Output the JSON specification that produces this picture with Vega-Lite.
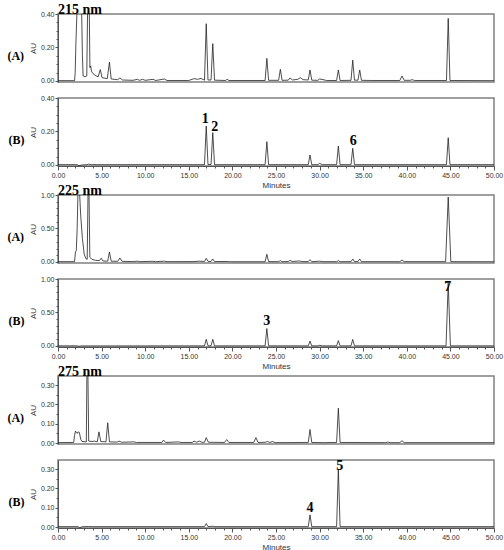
{
"$schema": "https://vega.github.io/schema/vega-lite/v6.json",
"padding": {"left": 6, "top": 2, "right": 1, "bottom": 2},
"background": "white",
"config": {
  "view": {"stroke": "#808080", "strokeWidth": 1.5},
  "axis": {"labelFont": "Liberation Sans", "labelFontSize": 7, "labelColor": "#333", "titleFont": "Liberation Sans", "titleFontSize": 8, "titleFontWeight": "normal", "titleColor": "#333", "domainColor": "#555", "tickColor": "#555", "grid": false, "labelFlush": false, "labelOverlap": false},
  "title": {"font": "Liberation Serif", "fontSize": 12, "fontWeight": "bold", "color": "#000", "orient": "left", "angle": 0, "align": "right", "baseline": "middle", "anchor": "middle", "offset": -3, "dy": 3},
  "text": {"font": "Liberation Serif", "fontSize": 14, "fontWeight": "bold", "color": "#000", "baseline": "alphabetic"},
  "line": {"color": "#222", "strokeWidth": 0.8}
},
"datasets": {
"d215A": [{"t":0,"au":0.002},{"t":1.9,"au":0.002},{"t":1.97,"au":0.05},{"t":2.05,"au":0.22},{"t":2.2,"au":0.45},{"t":2.7,"au":0.45},{"t":2.8,"au":0.15},{"t":2.88,"au":0.03},{"t":3.1,"au":0.025},{"t":3.3,"au":0.03},{"t":3.4,"au":0.45},{"t":3.58,"au":0.45},{"t":3.66,"au":0.08},{"t":3.75,"au":0.09},{"t":3.85,"au":0.055},{"t":4.2,"au":0.035},{"t":4.6,"au":0.025},{"t":4.85,"au":0.068},{"t":5.05,"au":0.02},{"t":5.65,"au":0.014},{"t":5.9,"au":0.113},{"t":6.1,"au":0.012},{"t":6.85,"au":0.008},{"t":7.1,"au":0.018},{"t":7.4,"au":0.006},{"t":8.6,"au":0.004},{"t":9.1,"au":0.01},{"t":9.35,"au":0.004},{"t":9.7,"au":0.01},{"t":10.0,"au":0.004},{"t":10.9,"au":0.01},{"t":11.2,"au":0.003},{"t":12.2,"au":0.012},{"t":12.5,"au":0.003},{"t":15.0,"au":0.003},{"t":15.6,"au":0.014},{"t":16.0,"au":0.01},{"t":16.4,"au":0.015},{"t":16.8,"au":0.005},{"t":17.0,"au":0.342},{"t":17.2,"au":0.006},{"t":17.55,"au":0.006},{"t":17.75,"au":0.223},{"t":17.95,"au":0.005},{"t":19.2,"au":0.003},{"t":19.4,"au":0.01},{"t":19.6,"au":0.003},{"t":23.75,"au":0.003},{"t":23.95,"au":0.135},{"t":24.15,"au":0.004},{"t":25.3,"au":0.004},{"t":25.5,"au":0.07},{"t":25.7,"au":0.004},{"t":26.4,"au":0.005},{"t":26.6,"au":0.018},{"t":26.9,"au":0.006},{"t":27.5,"au":0.01},{"t":27.8,"au":0.02},{"t":28.1,"au":0.008},{"t":28.7,"au":0.006},{"t":28.9,"au":0.066},{"t":29.1,"au":0.005},{"t":29.8,"au":0.004},{"t":30.0,"au":0.012},{"t":30.4,"au":0.008},{"t":30.8,"au":0.003},{"t":31.95,"au":0.003},{"t":32.15,"au":0.066},{"t":32.35,"au":0.003},{"t":33.6,"au":0.004},{"t":33.8,"au":0.125},{"t":34.0,"au":0.005},{"t":34.4,"au":0.005},{"t":34.6,"au":0.066},{"t":34.8,"au":0.004},{"t":36.0,"au":0.003},{"t":39.2,"au":0.003},{"t":39.45,"au":0.03},{"t":39.7,"au":0.004},{"t":40.4,"au":0.004},{"t":40.6,"au":0.008},{"t":40.9,"au":0.003},{"t":44.55,"au":0.003},{"t":44.75,"au":0.374},{"t":44.95,"au":0.003},{"t":50,"au":0.002}],
"d215B": [{"t":0,"au":0.002},{"t":2.2,"au":0.002},{"t":2.4,"au":-0.005},{"t":2.7,"au":0.0},{"t":3.3,"au":0.002},{"t":3.5,"au":0.005},{"t":3.8,"au":0.002},{"t":16.8,"au":0.002},{"t":17.0,"au":0.233},{"t":17.2,"au":0.003},{"t":17.55,"au":0.003},{"t":17.75,"au":0.193},{"t":17.95,"au":0.002},{"t":23.75,"au":0.002},{"t":23.95,"au":0.139},{"t":24.15,"au":0.002},{"t":28.7,"au":0.002},{"t":28.9,"au":0.06},{"t":29.1,"au":0.002},{"t":29.8,"au":0.002},{"t":30.0,"au":0.01},{"t":30.3,"au":0.002},{"t":31.95,"au":0.002},{"t":32.15,"au":0.113},{"t":32.35,"au":0.002},{"t":33.6,"au":0.002},{"t":33.8,"au":0.1},{"t":34.0,"au":0.002},{"t":44.55,"au":0.002},{"t":44.75,"au":0.163},{"t":44.95,"au":0.002},{"t":50,"au":0.002}],
"d225A": [{"t":0,"au":0.005},{"t":1.9,"au":0.005},{"t":2.0,"au":0.15},{"t":2.1,"au":0.17},{"t":2.2,"au":0.5},{"t":2.3,"au":1.1},{"t":2.45,"au":1.1},{"t":2.6,"au":0.7},{"t":2.8,"au":0.35},{"t":3.0,"au":0.12},{"t":3.2,"au":0.05},{"t":3.35,"au":0.04},{"t":3.45,"au":1.1},{"t":3.55,"au":1.1},{"t":3.65,"au":0.07},{"t":3.75,"au":0.06},{"t":3.9,"au":0.04},{"t":4.3,"au":0.025},{"t":4.75,"au":0.02},{"t":4.95,"au":0.055},{"t":5.15,"au":0.015},{"t":5.7,"au":0.012},{"t":5.9,"au":0.15},{"t":6.1,"au":0.012},{"t":6.85,"au":0.01},{"t":7.1,"au":0.06},{"t":7.35,"au":0.01},{"t":8.5,"au":0.006},{"t":9.1,"au":0.012},{"t":9.4,"au":0.005},{"t":10.9,"au":0.01},{"t":11.2,"au":0.005},{"t":12.2,"au":0.012},{"t":12.5,"au":0.005},{"t":15.5,"au":0.006},{"t":16.2,"au":0.012},{"t":16.8,"au":0.008},{"t":17.0,"au":0.055},{"t":17.2,"au":0.01},{"t":17.55,"au":0.008},{"t":17.75,"au":0.045},{"t":17.95,"au":0.006},{"t":19.4,"au":0.008},{"t":19.7,"au":0.004},{"t":23.75,"au":0.004},{"t":23.95,"au":0.115},{"t":24.15,"au":0.006},{"t":25.3,"au":0.005},{"t":25.5,"au":0.02},{"t":25.7,"au":0.005},{"t":26.4,"au":0.006},{"t":26.6,"au":0.025},{"t":26.85,"au":0.008},{"t":27.7,"au":0.015},{"t":28.0,"au":0.006},{"t":28.7,"au":0.006},{"t":28.9,"au":0.035},{"t":29.1,"au":0.005},{"t":30.0,"au":0.012},{"t":30.4,"au":0.005},{"t":31.95,"au":0.005},{"t":32.15,"au":0.02},{"t":32.35,"au":0.005},{"t":33.6,"au":0.005},{"t":33.8,"au":0.045},{"t":34.0,"au":0.006},{"t":34.4,"au":0.006},{"t":34.6,"au":0.045},{"t":34.8,"au":0.005},{"t":39.2,"au":0.005},{"t":39.45,"au":0.03},{"t":39.7,"au":0.005},{"t":44.45,"au":0.005},{"t":44.75,"au":0.97},{"t":45.05,"au":0.005},{"t":50,"au":0.004}],
"d225B": [{"t":0,"au":0.002},{"t":2.2,"au":0.002},{"t":2.4,"au":-0.004},{"t":2.7,"au":0.001},{"t":16.8,"au":0.002},{"t":17.0,"au":0.1},{"t":17.2,"au":0.003},{"t":17.55,"au":0.003},{"t":17.75,"au":0.1},{"t":17.95,"au":0.002},{"t":23.75,"au":0.002},{"t":23.95,"au":0.26},{"t":24.15,"au":0.002},{"t":28.7,"au":0.002},{"t":28.9,"au":0.074},{"t":29.1,"au":0.002},{"t":29.8,"au":0.002},{"t":30.0,"au":0.01},{"t":30.3,"au":0.002},{"t":31.95,"au":0.002},{"t":32.15,"au":0.08},{"t":32.35,"au":0.002},{"t":33.6,"au":0.002},{"t":33.8,"au":0.098},{"t":34.0,"au":0.002},{"t":44.5,"au":0.002},{"t":44.75,"au":0.94},{"t":45.0,"au":0.002},{"t":50,"au":0.002}],
"d275A": [{"t":0,"au":0.002},{"t":1.8,"au":0.003},{"t":1.9,"au":0.04},{"t":2.0,"au":0.062},{"t":2.1,"au":0.055},{"t":2.2,"au":0.05},{"t":2.3,"au":0.058},{"t":2.45,"au":0.055},{"t":2.6,"au":0.02},{"t":2.75,"au":0.008},{"t":3.25,"au":0.006},{"t":3.32,"au":0.4},{"t":3.42,"au":0.4},{"t":3.52,"au":0.01},{"t":3.9,"au":0.008},{"t":4.2,"au":0.01},{"t":4.5,"au":0.006},{"t":4.7,"au":0.058},{"t":4.9,"au":0.008},{"t":5.5,"au":0.006},{"t":5.7,"au":0.105},{"t":5.9,"au":0.006},{"t":6.8,"au":0.005},{"t":7.0,"au":0.01},{"t":7.3,"au":0.004},{"t":8.7,"au":0.006},{"t":9.0,"au":0.003},{"t":11.9,"au":0.003},{"t":12.1,"au":0.015},{"t":12.35,"au":0.003},{"t":13.8,"au":0.006},{"t":14.1,"au":0.003},{"t":15.4,"au":0.003},{"t":15.6,"au":0.01},{"t":15.9,"au":0.004},{"t":16.2,"au":0.01},{"t":16.5,"au":0.004},{"t":16.8,"au":0.004},{"t":17.0,"au":0.028},{"t":17.25,"au":0.004},{"t":19.1,"au":0.003},{"t":19.35,"au":0.018},{"t":19.6,"au":0.003},{"t":22.45,"au":0.003},{"t":22.7,"au":0.028},{"t":22.95,"au":0.003},{"t":23.8,"au":0.004},{"t":24.0,"au":0.008},{"t":24.3,"au":0.003},{"t":24.6,"au":0.008},{"t":24.9,"au":0.002},{"t":28.7,"au":0.003},{"t":28.9,"au":0.07},{"t":29.1,"au":0.003},{"t":30.5,"au":0.002},{"t":31.95,"au":0.003},{"t":32.15,"au":0.18},{"t":32.35,"au":0.003},{"t":37.6,"au":0.002},{"t":37.8,"au":0.005},{"t":38.1,"au":0.002},{"t":39.2,"au":0.002},{"t":39.45,"au":0.012},{"t":39.7,"au":0.002},{"t":50,"au":0.002}],
"d275B": [{"t":0,"au":0.002},{"t":2.3,"au":0.002},{"t":2.5,"au":-0.004},{"t":2.7,"au":0.001},{"t":3.5,"au":0.003},{"t":3.8,"au":0.002},{"t":16.8,"au":0.002},{"t":17.0,"au":0.018},{"t":17.2,"au":0.002},{"t":17.75,"au":0.004},{"t":18.0,"au":0.002},{"t":28.7,"au":0.002},{"t":28.9,"au":0.063},{"t":29.1,"au":0.002},{"t":31.95,"au":0.002},{"t":32.15,"au":0.3},{"t":32.35,"au":0.002},{"t":50,"au":0.002}],
"empty": []
},
"spacing": 5,
"bounds": "flush",
"vconcat": [
  {"width": 436, "height": 68, "title": {"text": "(A)"},
   "layer": [
    {"data": {"name": "d215A"}, "mark": {"type": "line", "clip": true},
     "encoding": {"x": {"field": "t", "type": "quantitative", "scale": {"domain": [0, 50], "nice": false, "zero": false}, "axis": null},
      "y": {"field": "au", "type": "quantitative", "scale": {"domain": [-0.006, 0.4], "nice": false, "zero": false}, "axis": {"orient": "left", "title": "AU", "values": [0, 0.2, 0.4], "format": ".2f", "tickSize": 3, "labelPadding": 1, "titlePadding": 3}}}},
    {"data": {"name": "d215A"}, "mark": {"type": "line", "opacity": 0},
     "encoding": {"x": {"field": "t", "type": "quantitative", "scale": {"domain": [0, 50], "nice": false, "zero": false}, "axis": null},
      "y": {"field": "au", "type": "quantitative", "scale": {"domain": [-0.006, 0.4], "nice": false, "zero": false}, "axis": {"orient": "left", "title": null, "values": [0.05, 0.1, 0.15, 0.25, 0.3, 0.35], "labels": false, "domain": false, "tickSize": 2}}}},
    {"data": {"values": [{"t": 0, "au": 0.4, "label": "215 nm"}]}, "mark": {"type": "text", "align": "left"},
     "encoding": {"x": {"field": "t", "type": "quantitative", "scale": {"domain": [0, 50], "nice": false, "zero": false}, "axis": null},
      "y": {"field": "au", "type": "quantitative", "scale": {"domain": [-0.006, 0.4], "nice": false, "zero": false}, "axis": null},
      "text": {"field": "label"}}}
   ],
   "resolve": {"axis": {"x": "independent", "y": "independent"}}},
  {"width": 436, "height": 6, "view": {"stroke": null}, "data": {"name": "empty"}, "mark": {"type": "point", "opacity": 0}, "encoding": {}},
  {"width": 436, "height": 68, "title": {"text": "(B)"},
   "layer": [
    {"data": {"name": "d215B"}, "mark": {"type": "line", "clip": true},
     "encoding": {"x": {"field": "t", "type": "quantitative", "scale": {"domain": [0, 50], "nice": false, "zero": false}, "axis": {"orient": "bottom", "title": "Minutes", "values": [0,5,10,15,20,25,30,35,40,45,50], "format": ".2f", "tickSize": 4, "labelPadding": 1, "titlePadding": 3}},
      "y": {"field": "au", "type": "quantitative", "scale": {"domain": [-0.006, 0.4], "nice": false, "zero": false}, "axis": {"orient": "left", "title": "AU", "values": [0, 0.2, 0.4], "format": ".2f", "tickSize": 3, "labelPadding": 1, "titlePadding": 3}}}},
    {"data": {"name": "d215B"}, "mark": {"type": "line", "opacity": 0},
     "encoding": {"x": {"field": "t", "type": "quantitative", "scale": {"domain": [0, 50], "nice": false, "zero": false}, "axis": {"orient": "bottom", "title": null, "values": [1,2,3,4,6,7,8,9,11,12,13,14,16,17,18,19,21,22,23,24,26,27,28,29,31,32,33,34,36,37,38,39,41,42,43,44,46,47,48,49], "labels": false, "domain": false, "tickSize": 2}},
      "y": {"field": "au", "type": "quantitative", "scale": {"domain": [-0.006, 0.4], "nice": false, "zero": false}, "axis": {"orient": "left", "title": null, "values": [0.05, 0.1, 0.15, 0.25, 0.3, 0.35], "labels": false, "domain": false, "tickSize": 2}}}},
    {"data": {"values": [{"t": 16.9, "au": 0.25, "label": "1"}, {"t": 17.97, "au": 0.203, "label": "2"}, {"t": 33.85, "au": 0.12, "label": "6"}]}, "mark": {"type": "text", "align": "center"},
     "encoding": {"x": {"field": "t", "type": "quantitative", "scale": {"domain": [0, 50], "nice": false, "zero": false}, "axis": null},
      "y": {"field": "au", "type": "quantitative", "scale": {"domain": [-0.006, 0.4], "nice": false, "zero": false}, "axis": null},
      "text": {"field": "label"}}}
   ],
   "resolve": {"axis": {"x": "independent", "y": "independent"}}},
  {"width": 436, "height": 19, "view": {"stroke": null}, "data": {"name": "empty"}, "mark": {"type": "point", "opacity": 0}, "encoding": {}},
  {"width": 436, "height": 68, "title": {"text": "(A)"},
   "layer": [
    {"data": {"name": "d225A"}, "mark": {"type": "line", "clip": true},
     "encoding": {"x": {"field": "t", "type": "quantitative", "scale": {"domain": [0, 50], "nice": false, "zero": false}, "axis": null},
      "y": {"field": "au", "type": "quantitative", "scale": {"domain": [-0.015, 1.0], "nice": false, "zero": false}, "axis": {"orient": "left", "title": "AU", "values": [0, 0.5, 1.0], "format": ".2f", "tickSize": 3, "labelPadding": 1, "titlePadding": 3}}}},
    {"data": {"name": "d225A"}, "mark": {"type": "line", "opacity": 0},
     "encoding": {"x": {"field": "t", "type": "quantitative", "scale": {"domain": [0, 50], "nice": false, "zero": false}, "axis": null},
      "y": {"field": "au", "type": "quantitative", "scale": {"domain": [-0.015, 1.0], "nice": false, "zero": false}, "axis": {"orient": "left", "title": null, "values": [0.1, 0.2, 0.3, 0.4, 0.6, 0.7, 0.8, 0.9], "labels": false, "domain": false, "tickSize": 2}}}},
    {"data": {"values": [{"t": 0, "au": 1.0, "label": "225 nm"}]}, "mark": {"type": "text", "align": "left"},
     "encoding": {"x": {"field": "t", "type": "quantitative", "scale": {"domain": [0, 50], "nice": false, "zero": false}, "axis": null},
      "y": {"field": "au", "type": "quantitative", "scale": {"domain": [-0.015, 1.0], "nice": false, "zero": false}, "axis": null},
      "text": {"field": "label"}}}
   ],
   "resolve": {"axis": {"x": "independent", "y": "independent"}}},
  {"width": 436, "height": 6, "view": {"stroke": null}, "data": {"name": "empty"}, "mark": {"type": "point", "opacity": 0}, "encoding": {}},
  {"width": 436, "height": 68, "title": {"text": "(B)"},
   "layer": [
    {"data": {"name": "d225B"}, "mark": {"type": "line", "clip": true},
     "encoding": {"x": {"field": "t", "type": "quantitative", "scale": {"domain": [0, 50], "nice": false, "zero": false}, "axis": {"orient": "bottom", "title": "Minutes", "values": [0,5,10,15,20,25,30,35,40,45,50], "format": ".2f", "tickSize": 4, "labelPadding": 1, "titlePadding": 3}},
      "y": {"field": "au", "type": "quantitative", "scale": {"domain": [-0.015, 1.0], "nice": false, "zero": false}, "axis": {"orient": "left", "title": "AU", "values": [0, 0.5, 1.0], "format": ".2f", "tickSize": 3, "labelPadding": 1, "titlePadding": 3}}}},
    {"data": {"name": "d225B"}, "mark": {"type": "line", "opacity": 0},
     "encoding": {"x": {"field": "t", "type": "quantitative", "scale": {"domain": [0, 50], "nice": false, "zero": false}, "axis": {"orient": "bottom", "title": null, "values": [1,2,3,4,6,7,8,9,11,12,13,14,16,17,18,19,21,22,23,24,26,27,28,29,31,32,33,34,36,37,38,39,41,42,43,44,46,47,48,49], "labels": false, "domain": false, "tickSize": 2}},
      "y": {"field": "au", "type": "quantitative", "scale": {"domain": [-0.015, 1.0], "nice": false, "zero": false}, "axis": {"orient": "left", "title": null, "values": [0.1, 0.2, 0.3, 0.4, 0.6, 0.7, 0.8, 0.9], "labels": false, "domain": false, "tickSize": 2}}}},
    {"data": {"values": [{"t": 23.95, "au": 0.31, "label": "3"}, {"t": 44.7, "au": 0.82, "label": "7"}]}, "mark": {"type": "text", "align": "center"},
     "encoding": {"x": {"field": "t", "type": "quantitative", "scale": {"domain": [0, 50], "nice": false, "zero": false}, "axis": null},
      "y": {"field": "au", "type": "quantitative", "scale": {"domain": [-0.015, 1.0], "nice": false, "zero": false}, "axis": null},
      "text": {"field": "label"}}}
   ],
   "resolve": {"axis": {"x": "independent", "y": "independent"}}},
  {"width": 436, "height": 19, "view": {"stroke": null}, "data": {"name": "empty"}, "mark": {"type": "point", "opacity": 0}, "encoding": {}},
  {"width": 436, "height": 68, "title": {"text": "(A)"},
   "layer": [
    {"data": {"name": "d275A"}, "mark": {"type": "line", "clip": true},
     "encoding": {"x": {"field": "t", "type": "quantitative", "scale": {"domain": [0, 50], "nice": false, "zero": false}, "axis": null},
      "y": {"field": "au", "type": "quantitative", "scale": {"domain": [-0.005, 0.347], "nice": false, "zero": false}, "axis": {"orient": "left", "title": "AU", "values": [0, 0.1, 0.2, 0.3], "format": ".2f", "tickSize": 3, "labelPadding": 1, "titlePadding": 3}}}},
    {"data": {"name": "d275A"}, "mark": {"type": "line", "opacity": 0},
     "encoding": {"x": {"field": "t", "type": "quantitative", "scale": {"domain": [0, 50], "nice": false, "zero": false}, "axis": null},
      "y": {"field": "au", "type": "quantitative", "scale": {"domain": [-0.005, 0.347], "nice": false, "zero": false}, "axis": {"orient": "left", "title": null, "values": [0.05, 0.15, 0.25], "labels": false, "domain": false, "tickSize": 2}}}},
    {"data": {"values": [{"t": 0, "au": 0.347, "label": "275 nm"}]}, "mark": {"type": "text", "align": "left"},
     "encoding": {"x": {"field": "t", "type": "quantitative", "scale": {"domain": [0, 50], "nice": false, "zero": false}, "axis": null},
      "y": {"field": "au", "type": "quantitative", "scale": {"domain": [-0.005, 0.347], "nice": false, "zero": false}, "axis": null},
      "text": {"field": "label"}}}
   ],
   "resolve": {"axis": {"x": "independent", "y": "independent"}}},
  {"width": 436, "height": 6, "view": {"stroke": null}, "data": {"name": "empty"}, "mark": {"type": "point", "opacity": 0}, "encoding": {}},
  {"width": 436, "height": 68, "title": {"text": "(B)"},
   "layer": [
    {"data": {"name": "d275B"}, "mark": {"type": "line", "clip": true},
     "encoding": {"x": {"field": "t", "type": "quantitative", "scale": {"domain": [0, 50], "nice": false, "zero": false}, "axis": {"orient": "bottom", "title": "Minutes", "values": [0,5,10,15,20,25,30,35,40,45,50], "format": ".2f", "tickSize": 4, "labelPadding": 1, "titlePadding": 3}},
      "y": {"field": "au", "type": "quantitative", "scale": {"domain": [-0.005, 0.347], "nice": false, "zero": false}, "axis": {"orient": "left", "title": "AU", "values": [0, 0.1, 0.2, 0.3], "format": ".2f", "tickSize": 3, "labelPadding": 1, "titlePadding": 3}}}},
    {"data": {"name": "d275B"}, "mark": {"type": "line", "opacity": 0},
     "encoding": {"x": {"field": "t", "type": "quantitative", "scale": {"domain": [0, 50], "nice": false, "zero": false}, "axis": {"orient": "bottom", "title": null, "values": [1,2,3,4,6,7,8,9,11,12,13,14,16,17,18,19,21,22,23,24,26,27,28,29,31,32,33,34,36,37,38,39,41,42,43,44,46,47,48,49], "labels": false, "domain": false, "tickSize": 2}},
      "y": {"field": "au", "type": "quantitative", "scale": {"domain": [-0.005, 0.347], "nice": false, "zero": false}, "axis": {"orient": "left", "title": null, "values": [0.05, 0.15, 0.25], "labels": false, "domain": false, "tickSize": 2}}}},
    {"data": {"values": [{"t": 28.9, "au": 0.08, "label": "4"}, {"t": 32.3, "au": 0.294, "label": "5"}]}, "mark": {"type": "text", "align": "center"},
     "encoding": {"x": {"field": "t", "type": "quantitative", "scale": {"domain": [0, 50], "nice": false, "zero": false}, "axis": null},
      "y": {"field": "au", "type": "quantitative", "scale": {"domain": [-0.005, 0.347], "nice": false, "zero": false}, "axis": null},
      "text": {"field": "label"}}}
   ],
   "resolve": {"axis": {"x": "independent", "y": "independent"}}}
]
}
